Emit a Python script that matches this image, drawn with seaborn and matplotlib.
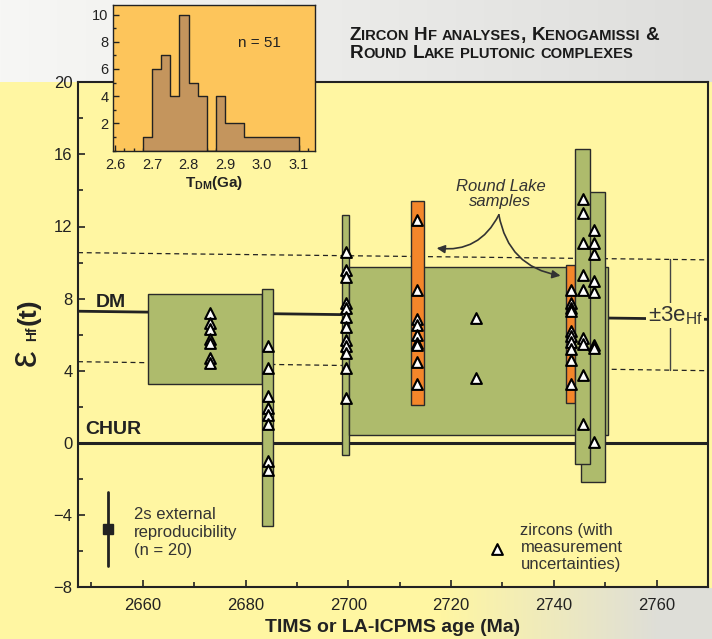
import numpy as np
import pandas as pd
import seaborn as sns
import matplotlib.pyplot as plt
from matplotlib.patches import Rectangle
from matplotlib.ticker import MultipleLocator
from matplotlib.colors import to_rgb

W, H = 712, 639

# ---- values ----
age_lim = (2647.4, 2770.0)
eps_lim = (-8, 20)

# depleted mantle curve and +/- 3 epsilon band
dm_age = [2647.4, 2770.0]
dm_eps = [7.3, 6.85]
dm_hi_eps = [10.55, 10.15]
dm_lo_eps = [4.5, 4.0]

# sample boxes (age range x eHf range), in drawing order
box_age0 = [2661.1, 2683.3, 2698.8, 2700.2, 2712.2, 2742.4, 2745.2, 2744.2]
box_age1 = [2683.3, 2685.4, 2700.2, 2750.5, 2714.7, 2744.2, 2750.0, 2747.0]
box_eps0 = [3.27, -4.64, -0.69, 0.43, 2.07, 2.22, -2.18, -1.2]
box_eps1 = [8.25, 8.53, 12.65, 9.77, 13.44, 9.84, 13.94, 16.29]
box_kind = ["Kenogamissi", "Kenogamissi", "Kenogamissi", "Kenogamissi",
            "Round Lake", "Round Lake", "Kenogamissi", "Kenogamissi"]

# single zircon analyses
zr_age = [2673.0, 2684.4, 2699.5, 2713.4, 2724.8, 2743.3, 2745.6, 2747.8]
zr_eps = [
    [7.2, 6.65, 6.3, 5.75, 5.55, 4.7, 4.45],
    [5.35, 4.15, 2.6, 1.95, 1.55, 1.05, -1.0, -1.5],
    [10.6, 9.6, 9.2, 7.75, 7.5, 7.0, 6.45, 5.7, 5.35, 5.0, 4.15, 2.5],
    [12.35, 8.5, 6.85, 6.55, 6.0, 5.55, 5.4, 4.5, 3.25],
    [6.95, 3.6],
    [8.5, 7.75, 7.5, 7.3, 6.2, 5.95, 5.6, 5.2, 4.6, 3.25],
    [13.5, 12.75, 11.1, 9.3, 8.5, 5.8, 5.5, 3.75, 1.05],
    [11.8, 11.1, 10.45, 8.95, 8.35, 5.45, 5.25, 0.05],
]

# external reproducibility bar
rep_age = 2653.2
rep_eps = -4.8
rep_err = 2.05

# T_DM histogram (inset)
tdm_edges = [2.675, 2.7, 2.725, 2.75, 2.775, 2.8, 2.825, 2.85, 2.875, 2.9,
             2.925, 2.95, 2.975, 3.0, 3.025, 3.05, 3.075, 3.1]
tdm_counts = [1, 6, 7, 4, 10, 5, 4, 0, 4, 2, 2, 1, 1, 1, 1, 1, 1]

df = pd.DataFrame({
    "age": [a for a, e in zip(zr_age, zr_eps) for _ in e],
    "eps": [v for e in zr_eps for v in e],
})
tdm_mid = [(a + b) / 2 for a, b in zip(tdm_edges[:-1], tdm_edges[1:])]

# ---- style ----
sns.set_style("ticks")
plt.rcParams["font.family"] = ["Liberation Sans", "DejaVu Sans"]
plt.rcParams.update({
    "mathtext.fontset": "custom",
    "mathtext.rm": "Liberation Sans",
    "mathtext.bf": "Liberation Sans:bold",
    "mathtext.it": "Liberation Sans:italic",
})

yellow = "#FFF6A2"
green = "#AEBB6C"
orange = "#F4862A"
dark = "#222222"
txt = "#333333"
colors = {"Kenogamissi": green, "Round Lake": orange}


def fx(px):
    return px / W


def fy(py):
    return 1 - py / H


fig = plt.figure(figsize=(W / 100, H / 100), dpi=100, facecolor=yellow)

# textured-looking background bands (top and lower right)
y_rgb = np.array(to_rgb(yellow))
c0, c1 = np.array(to_rgb("#F7F7F5")), np.array(to_rgb("#DEDEDC"))
t = np.linspace(0, 1, W)[:, None]
bg = np.tile(y_rgb, (H, W, 1))
bg[:82] = (c0 + (c1 - c0) * t)[None]
g = np.clip((np.arange(W) - 440) / 220, 0, 1)[:, None]
bg[588:] = (y_rgb + (np.array(to_rgb("#DEDED8")) - y_rgb) * g)[None]
bax = fig.add_axes([0, 0, 1, 1], zorder=-5)
bax.imshow(bg, extent=(0, W, H, 0), aspect="auto")
bax.axis("off")

# ---- main panel ----
ax = fig.add_axes([fx(78), fy(587), fx(708) - fx(78), fy(82.3) - fy(587)])
ax.set_facecolor(yellow)

sns.lineplot(x=dm_age, y=dm_eps, ax=ax, color=dark, lw=2, zorder=1)
sns.lineplot(x=dm_age, y=dm_hi_eps, ax=ax, color=dark, lw=0.9, dashes=False,
             linestyle=(0, (4, 3)), zorder=1)
sns.lineplot(x=dm_age, y=dm_lo_eps, ax=ax, color=dark, lw=0.9, dashes=False,
             linestyle=(0, (4, 3)), zorder=1)
ax.axhline(0, color=dark, lw=2.2, zorder=1)

for i, (a0, a1, e0, e1, k) in enumerate(zip(box_age0, box_age1, box_eps0,
                                             box_eps1, box_kind)):
    ax.add_patch(Rectangle((a0, e0), a1 - a0, e1 - e0, facecolor=colors[k],
                           edgecolor="#2a2a2a", lw=1, zorder=2 + i))

sns.scatterplot(data=df, x="age", y="eps", marker="^", s=60, color="white",
                edgecolor="black", linewidth=1.5, zorder=20, ax=ax, legend=False)

# legend-like items
ax.plot([rep_age, rep_age], [rep_eps - rep_err, rep_eps + rep_err],
        color=dark, lw=2, zorder=5)
ax.plot([rep_age], [rep_eps], marker="s", ms=6.5, color=dark, zorder=6)
ax.text(2658.3, -4.95, "2s external\nreproducibility\n(n = 20)", fontsize=12,
        color=txt, ha="left", va="center", linespacing=1.25)
ax.scatter([2729.0], [-5.91], marker="^", s=60, color="white",
           edgecolor="black", linewidth=1.5, zorder=20)
ax.text(2733.5, -5.82, "zircons (with\nmeasurement\nuncertainties)",
        fontsize=12, color=txt, ha="left", va="center", linespacing=1.15)

ax.text(2650.8, 7.3, "DM", fontsize=14, fontweight="bold", color=dark,
        ha="left", va="bottom")
ax.text(2648.8, 0.25, "CHUR", fontsize=14, fontweight="bold", color=dark,
        ha="left", va="bottom")

# +/- 3 eHf bracket
xb = 2762.6
ax.plot([xb, xb], [np.interp(xb, dm_age, dm_hi_eps),
                   np.interp(xb, dm_age, dm_lo_eps)], color="#444444", lw=1,
        zorder=1)
ax.text(xb + 1.0, np.interp(xb, dm_age, dm_eps) + 0.2,
        r"$\pm$3e$_{\mathrm{Hf}}$", fontsize=16, color=txt, ha="center",
        va="center", zorder=3,
        bbox=dict(facecolor=yellow, edgecolor="none", pad=1))

# Round Lake annotation
ax.text(2729.6, 13.8, "Round Lake\nsamples", fontsize=12, style="italic",
        color=txt, ha="center", va="center", linespacing=1.05)
arrow_kw = dict(arrowstyle="-|>", color=txt, lw=1.2, mutation_scale=12,
                shrinkA=0, shrinkB=0)
ax.annotate("", xy=(2717.2, 10.8), xytext=(2729.3, 12.65), zorder=30,
            arrowprops=dict(connectionstyle="arc3,rad=-0.35", **arrow_kw))
ax.annotate("", xy=(2741.3, 9.27), xytext=(2729.3, 12.65), zorder=30,
            arrowprops=dict(connectionstyle="arc3,rad=0.35", **arrow_kw))

ax.set_xlim(age_lim)
ax.set_ylim(eps_lim)
ax.xaxis.set_major_locator(MultipleLocator(20))
ax.xaxis.set_minor_locator(MultipleLocator(10))
ax.yaxis.set_major_locator(MultipleLocator(4))
ax.yaxis.set_minor_locator(MultipleLocator(2))
ax.tick_params(which="both", direction="in", width=1.2, color=dark,
               labelcolor=dark, labelsize=12)
ax.tick_params(which="major", length=5)
ax.tick_params(which="minor", length=3.5)
ax.tick_params(axis="x", pad=8)
ax.tick_params(axis="y", pad=4)
for s in ax.spines.values():
    s.set_linewidth(1.5)
    s.set_color(dark)
ax.set_xlabel("TIMS or LA-ICPMS age (Ma)", fontsize=14, fontweight="bold",
              color=dark, labelpad=4)
ax.set_ylabel("")

# y label built from pieces (large epsilon)
fig.text(fx(26), fy(358), "ε", fontsize=27, rotation=90, ha="center",
         va="center", color=dark)
fig.text(fx(32), fy(334), "Hf", fontsize=10, fontweight="bold", rotation=90,
         ha="center", va="center", color=dark)
fig.text(fx(29), fy(312), "(t)", fontsize=19, fontweight="bold", rotation=90,
         ha="center", va="center", color=dark)

# ---- inset histogram ----
axi = fig.add_axes([fx(113.3), fy(150.7), fx(315) - fx(113.3),
                    fy(5) - fy(150.7)], zorder=10)
axi.set_facecolor("#FDC55B")
sns.histplot(x=tdm_mid, weights=tdm_counts, bins=tdm_edges, element="step",
             fill=True, color="#C4955D", alpha=1, edgecolor=dark, linewidth=1,
             ax=axi)
axi.set_xlim(2.595, 3.144)
axi.set_ylim(0, 10.7)
axi.set_xticks([2.6, 2.7, 2.8, 2.9, 3.0, 3.1])
axi.set_yticks([2, 4, 6, 8, 10])
axi.xaxis.set_minor_locator(MultipleLocator(0.025))
axi.yaxis.set_minor_locator(MultipleLocator(1))
axi.tick_params(which="both", direction="in", width=1, color=dark,
                labelcolor=dark, labelsize=10.5)
axi.tick_params(which="major", length=4)
axi.tick_params(which="minor", length=2.5)
axi.tick_params(axis="x", pad=5)
for s in axi.spines.values():
    s.set_linewidth(1)
    s.set_color(dark)
axi.set_ylabel("")
axi.set_xlabel(r"$\mathbf{T_{DM}(Ga)}$", fontsize=11, color=dark, labelpad=2)
axi.text(2.994, 7.9, "n = 51", fontsize=11, color=dark, ha="center",
         va="center")


# ---- small-caps title ----
def small_caps(x_px, y_px, line, big=13.6, small=10.6):
    r = fig.canvas.get_renderer()
    x = x_px
    for word in line.split(" "):
        runs = []
        for ch in word:
            low = ch.islower()
            if runs and runs[-1][0] == low:
                runs[-1][1] += ch
            else:
                runs.append([low, ch])
        for low, s in runs:
            tt = fig.text(fx(x), fy(y_px), s.upper(), fontsize=small if low else big,
                          fontweight="bold", color="#1a1a1a", ha="left",
                          va="baseline")
            x += tt.get_window_extent(r).width
        x += 0.28 * big * 100 / 72


small_caps(350, 40, "Zircon Hf analyses, Kenogamissi &")
small_caps(350, 58, "Round Lake plutonic complexes")

fig.savefig("out.png", dpi=100, facecolor=fig.get_facecolor())
